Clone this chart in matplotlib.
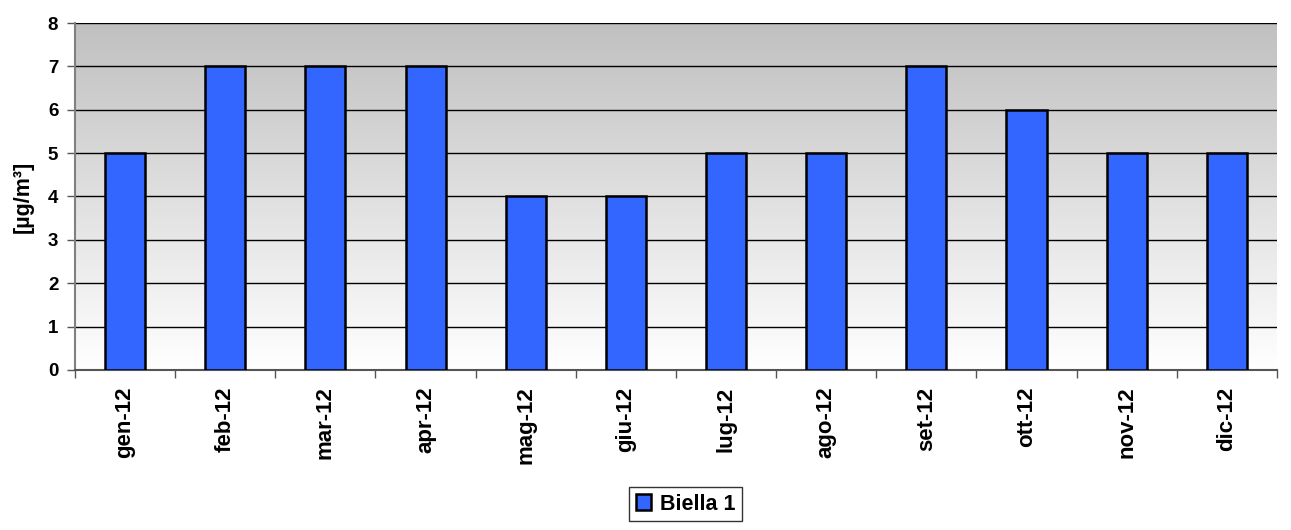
import numpy as np
import matplotlib
matplotlib.use("Agg")
import matplotlib.pyplot as plt
from matplotlib.colors import LinearSegmentedColormap

plt.rcParams['font.family'] = ['Liberation Sans', 'DejaVu Sans']
plt.rcParams['font.weight'] = 'bold'

months = ['gen-12', 'feb-12', 'mar-12', 'apr-12', 'mag-12', 'giu-12',
          'lug-12', 'ago-12', 'set-12', 'ott-12', 'nov-12', 'dic-12']
biella1 = [5, 7, 7, 7, 4, 4, 5, 5, 7, 6, 5, 5]

fig = plt.figure(figsize=(12.91, 5.30), dpi=100)
ax = fig.add_axes([0.0581, 0.302, 0.931, 0.6546])

x = np.arange(len(months))
ax.set_xlim(-0.5, len(months) - 0.5)
ax.set_ylim(0, 8)

# gray-to-white gradient background
grad = np.linspace(0, 1, 256).reshape(-1, 1)
cmap = LinearSegmentedColormap.from_list('bg', ['#ffffff', '#c0c0c0'])
ax.imshow(grad, aspect='auto', cmap=cmap, origin='lower',
          extent=[-0.5, len(months) - 0.5, 0, 8], zorder=0)

ax.yaxis.grid(True, color='black', linewidth=1, zorder=1)
ax.set_axisbelow(True)

ax.bar(x, biella1, width=0.4, color='#3366ff', edgecolor='black',
       linewidth=1.8, zorder=3, label='Biella 1')

ax.set_yticks(range(0, 9))
ax.set_xticks(x)
ax.set_xticklabels(months, rotation=90)
ax.set_xticks(np.arange(-0.5, len(months)), minor=True)
ax.tick_params(axis='x', which='major', length=0, pad=12, labelsize=16)
ax.tick_params(axis='x', which='minor', length=6, color='#555555', width=1)
ax.tick_params(axis='y', length=6, color='#555555', width=1, labelsize=13.5, pad=6)

for side in ['top', 'right']:
    ax.spines[side].set_visible(False)
ax.spines['left'].set_color('#808080')
ax.spines['left'].set_linewidth(1.5)
ax.spines['bottom'].set_color('#555555')
ax.spines['bottom'].set_linewidth(1.5)

ax.set_ylabel('[µg/m³]', fontsize=15.5, fontweight='bold', labelpad=10)

leg = fig.legend(loc='center', bbox_to_anchor=(0.531, 0.049), frameon=True,
                 fancybox=False, edgecolor='black', fontsize=15.5,
                 handlelength=0.7, handleheight=0.7, handletextpad=0.4,
                 borderpad=0.3)
leg.get_frame().set_linewidth(1)

fig.savefig('out.png', dpi=100)
